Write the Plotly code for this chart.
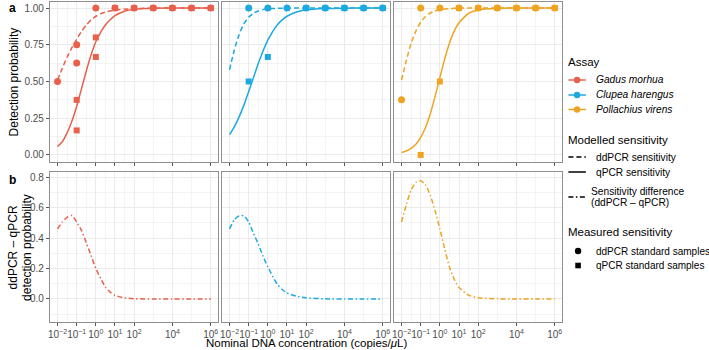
import plotly.graph_objects as go

# ---------------- data ----------------
species = ["Gadus morhua", "Clupea harengus", "Pollachius virens"]
colors = ["#E8604C", "#1BA9E0", "#EFA320"]

x_tickvals = [0.01, 0.1, 1, 10, 100, 1e4, 1e6]
x_ticktext = ["10<sup>−2</sup>", "10<sup>−1</sup>", "10<sup>0</sup>", "10<sup>1</sup>",
              "10<sup>2</sup>", "10<sup>4</sup>", "10<sup>6</sup>"]
x_minor = [0.0316, 0.316, 3.16, 31.6, 1e3, 1e5]

# concentration grid for modelled curves
conc_grid = [0.01, 0.0178, 0.0316, 0.0562, 0.1, 0.178, 0.316, 0.562, 1, 1.78,
             3.16, 5.62, 10, 31.6, 100, 1e3, 1e4, 1e5, 1e6]

# modelled ddPCR sensitivity
gm_dd_curve = [0.51, 0.59, 0.665, 0.73, 0.787, 0.84, 0.884, 0.918, 0.944, 0.96,
               0.972, 0.98, 0.986, 0.992, 0.996, 0.999, 1, 1, 1]
ch_dd_curve = [0.58, 0.715, 0.82, 0.893, 0.938, 0.965, 0.98, 0.989, 0.994, 0.996,
               0.998, 0.999, 1, 1, 1, 1, 1, 1, 1]
pv_dd_curve = [0.51, 0.643, 0.76, 0.844, 0.904, 0.942, 0.966, 0.98, 0.988, 0.993,
               0.996, 0.998, 0.999, 1, 1, 1, 1, 1, 1]

# modelled qPCR sensitivity
gm_q_curve = [0.057, 0.09, 0.15, 0.23, 0.33, 0.45, 0.57, 0.68, 0.77, 0.835,
              0.885, 0.92, 0.948, 0.978, 0.991, 0.999, 1, 1, 1]
ch_q_curve = [0.138, 0.191, 0.259, 0.339, 0.431, 0.527, 0.622, 0.708, 0.781, 0.84,
              0.886, 0.919, 0.944, 0.973, 0.988, 0.997, 0.999, 1, 1]
pv_q_curve = [0.016, 0.027, 0.044, 0.072, 0.12, 0.187, 0.28, 0.397, 0.526, 0.652,
              0.76, 0.843, 0.9, 0.963, 0.987, 0.998, 1, 1, 1]

# sensitivity difference (ddPCR - qPCR)
gm_diff_curve = [0.46, 0.505, 0.535, 0.548, 0.505, 0.45, 0.37, 0.285, 0.2, 0.135,
                 0.078, 0.045, 0.024, 0.007, 0.002, 0, 0, 0, 0]
ch_diff_curve = [0.46, 0.52, 0.545, 0.545, 0.505, 0.43, 0.36, 0.28, 0.21, 0.15,
                 0.095, 0.062, 0.04, 0.018, 0.007, 0.001, 0, 0, 0]
pv_diff_curve = [0.505, 0.62, 0.715, 0.765, 0.775, 0.75, 0.68, 0.58, 0.46, 0.33,
                 0.21, 0.13, 0.075, 0.025, 0.008, 0.001, 0, 0, 0]

# measured standard samples
gm_dd_x = [0.01, 0.1, 0.1, 1, 10, 100, 1e3, 1e4, 1e5, 1e6]
gm_dd_y = [0.5, 0.75, 0.625, 1, 1, 1, 1, 1, 1, 1]
gm_q_x = [0.1, 0.1, 1, 1, 10, 100, 1e3, 1e4, 1e5, 1e6]
gm_q_y = [0.375, 0.167, 0.8, 0.667, 1, 1, 1, 1, 1, 1]

ch_dd_x = [0.1, 1, 10, 100, 1e3, 1e4, 1e5, 1e6]
ch_dd_y = [1, 1, 1, 1, 1, 1, 1, 1]
ch_q_x = [0.1, 1, 100, 1e3, 1e4, 1e5, 1e6]
ch_q_y = [0.5, 0.667, 1, 1, 1, 1, 1]

pv_dd_x = [0.01, 0.1, 1, 10, 100, 1e3, 1e4, 1e5, 1e6]
pv_dd_y = [0.375, 1, 1, 1, 1, 1, 1, 1, 1]
pv_q_x = [0.1, 1, 10, 100, 1e3, 1e4, 1e5, 1e6]
pv_q_y = [0.0, 0.5, 1, 1, 1, 1, 1, 1]

dd_curves = [gm_dd_curve, ch_dd_curve, pv_dd_curve]
q_curves = [gm_q_curve, ch_q_curve, pv_q_curve]
diff_curves = [gm_diff_curve, ch_diff_curve, pv_diff_curve]
dd_pts = [(gm_dd_x, gm_dd_y), (ch_dd_x, ch_dd_y), (pv_dd_x, pv_dd_y)]
q_pts = [(gm_q_x, gm_q_y), (ch_q_x, ch_q_y), (pv_q_x, pv_q_y)]

# ---------------- layout helpers ----------------
W, H = 709, 350
FONT = "Liberation Sans, Arial, sans-serif"
BORDER = "#8f8f8f"
GRID = "#ebebeb"
GRID_MINOR = "#f4f4f4"
TICKC = "#4d4d4d"

def fx(p):
    return p / W

def fy(p):
    return 1 - p / H

col_px = [(48, 217), (220.5, 389.5), (393, 562)]
row_px = [(2, 162), (172, 322)]

DASH = "5px,3px"
DASHDOT = "5px,2.5px,1.5px,2.5px"

fig = go.Figure()
layout = {}

for r in range(2):
    for c in range(3):
        n = r * 3 + c + 1
        xa = "xaxis" if n == 1 else f"xaxis{n}"
        ya = "yaxis" if n == 1 else f"yaxis{n}"
        layout[xa] = dict(
            domain=[fx(col_px[c][0]), fx(col_px[c][1])],
            anchor=f"y{'' if n == 1 else n}",
            type="log", range=[-2.4, 6.4],
            tickvals=x_tickvals, ticktext=x_ticktext,
            showticklabels=(r == 1), tickangle=0,
            ticks="outside", ticklen=3, tickwidth=1, tickcolor="#555555",
            tickfont=dict(family=FONT, size=10, color=TICKC),
            showgrid=True, gridcolor=GRID, gridwidth=1,
            minor=dict(tickvals=x_minor, showgrid=True, gridcolor=GRID_MINOR,
                       gridwidth=0.6, ticks=""),
            showline=True, mirror=True, linecolor=BORDER, linewidth=1,
            zeroline=False,
        )
        if r == 0:
            yr = [-0.048, 1.041]
            ytv = [0, 0.25, 0.5, 0.75, 1]
            ytt = ["0.00", "0.25", "0.50", "0.75", "1.00"]
            ymin = [0.125, 0.375, 0.625, 0.875]
        else:
            yr = [-0.151, 0.833]
            ytv = [0, 0.2, 0.4, 0.6, 0.8]
            ytt = ["0.0", "0.2", "0.4", "0.6", "0.8"]
            ymin = [-0.1, 0.1, 0.3, 0.5, 0.7]
        layout[ya] = dict(
            domain=[fy(row_px[r][1]), fy(row_px[r][0])],
            anchor=f"x{'' if n == 1 else n}",
            range=yr, tickvals=ytv, ticktext=ytt,
            showticklabels=(c == 0),
            ticks="outside" if c == 0 else "", ticklen=3, tickwidth=1,
            tickcolor="#555555",
            tickfont=dict(family=FONT, size=10, color=TICKC),
            showgrid=True, gridcolor=GRID, gridwidth=1,
            minor=dict(tickvals=ymin, showgrid=True, gridcolor=GRID_MINOR,
                       gridwidth=0.6, ticks=""),
            showline=True, mirror=True, linecolor=BORDER, linewidth=1,
            zeroline=False,
        )

for i in range(3):
    top_x = "x" if i == 0 else f"x{i + 1}"
    top_y = "y" if i == 0 else f"y{i + 1}"
    bot_x = f"x{i + 4}"
    bot_y = f"y{i + 4}"
    col = colors[i]
    fig.add_trace(go.Scatter(x=conc_grid, y=dd_curves[i], mode="lines",
                             line=dict(color=col, width=1.5, dash=DASH, shape="spline", smoothing=0.6),
                             xaxis=top_x, yaxis=top_y, showlegend=False, hoverinfo="skip"))
    fig.add_trace(go.Scatter(x=conc_grid, y=q_curves[i], mode="lines",
                             line=dict(color=col, width=1.5, shape="spline", smoothing=0.6),
                             xaxis=top_x, yaxis=top_y, showlegend=False, hoverinfo="skip"))
    fig.add_trace(go.Scatter(x=dd_pts[i][0], y=dd_pts[i][1], mode="markers",
                             marker=dict(color=col, size=7, symbol="circle"),
                             xaxis=top_x, yaxis=top_y, showlegend=False, cliponaxis=False))
    fig.add_trace(go.Scatter(x=q_pts[i][0], y=q_pts[i][1], mode="markers",
                             marker=dict(color=col, size=6, symbol="square"),
                             xaxis=top_x, yaxis=top_y, showlegend=False, cliponaxis=False))
    fig.add_trace(go.Scatter(x=conc_grid, y=diff_curves[i], mode="lines",
                             line=dict(color=col, width=1.5, dash=DASHDOT, shape="spline", smoothing=0.6),
                             xaxis=bot_x, yaxis=bot_y, showlegend=False, hoverinfo="skip"))

# ---------------- annotations (labels, legend) ----------------
ann = []
shapes = []

def text(x, y, s, size=10, xanchor="left", color="black", angle=0, bold=False, align="left"):
    ann.append(dict(x=fx(x), y=fy(y), xref="paper", yref="paper", text=s,
                    showarrow=False, xanchor=xanchor, yanchor="middle",
                    textangle=angle, align=align,
                    font=dict(family=FONT, size=size, color=color,
                              weight="bold" if bold else "normal")))

text(5, 8, "a", size=12, bold=True)
text(5, 180, "b", size=12, bold=True)
text(12.5, 82, "Detection probability", size=12, xanchor="center", angle=-90)
text(11.5, 247, "ddPCR – qPCR", size=12, xanchor="center", angle=-90)
text(25, 247, "detection probability", size=12, xanchor="center", angle=-90)
text(305, 343.3, "Nominal DNA concentration (copies/<i>μ</i>L)", size=11.5, xanchor="center")

# legend
text(566, 62, "Assay", size=11.5)
for i, yy in enumerate([80, 95, 109.5]):
    shapes.append(dict(type="line", xref="paper", yref="paper",
                       x0=fx(568), x1=fx(585.5), y0=fy(yy), y1=fy(yy),
                       line=dict(color=colors[i], width=1.5)))
    shapes.append(dict(type="circle", xref="paper", yref="paper",
                       x0=fx(576.7 - 3.2), x1=fx(576.7 + 3.2), y0=fy(yy + 3.2), y1=fy(yy - 3.2),
                       fillcolor=colors[i], line=dict(width=0)))
    text(594, yy, f"<i>{species[i]}</i>", size=10.2)

text(566, 140, "Modelled sensitivity", size=11.5)
shapes.append(dict(type="line", xref="paper", yref="paper", x0=fx(568), x1=fx(585.5),
                   y0=fy(157), y1=fy(157), line=dict(color="black", width=1.5, dash=DASH)))
text(594, 157, "ddPCR sensitivity", size=10.2)
shapes.append(dict(type="line", xref="paper", yref="paper", x0=fx(568), x1=fx(585.5),
                   y0=fy(172), y1=fy(172), line=dict(color="black", width=1.5)))
text(594, 172, "qPCR sensitivity", size=10.2)
shapes.append(dict(type="line", xref="paper", yref="paper", x0=fx(568), x1=fx(585.5),
                   y0=fy(197), y1=fy(197), line=dict(color="black", width=1.5, dash=DASHDOT)))
text(589, 191.5, "Sensitivity difference", size=10.2)
text(589, 202.5, "(ddPCR – qPCR)", size=10.2)

text(566, 232, "Measured sensitivity", size=11.5)
shapes.append(dict(type="circle", xref="paper", yref="paper",
                   x0=fx(577.7 - 3.2), x1=fx(577.7 + 3.2), y0=fy(251 + 3.2), y1=fy(251 - 3.2),
                   fillcolor="black", line=dict(width=0)))
text(594, 251, "ddPCR standard samples", size=10)
shapes.append(dict(type="rect", xref="paper", yref="paper",
                   x0=fx(577.7 - 2.8), x1=fx(577.7 + 2.8), y0=fy(265.5 + 2.8), y1=fy(265.5 - 2.8),
                   fillcolor="black", line=dict(width=0)))
text(594, 265.5, "qPCR standard samples", size=10)

fig.update_layout(
    width=W, height=H,
    margin=dict(l=0, r=0, t=0, b=0, pad=0),
    paper_bgcolor="white", plot_bgcolor="white",
    showlegend=False,
    annotations=ann, shapes=shapes,
    font=dict(family=FONT),
    **layout,
)

fig.write_html("out.html")
